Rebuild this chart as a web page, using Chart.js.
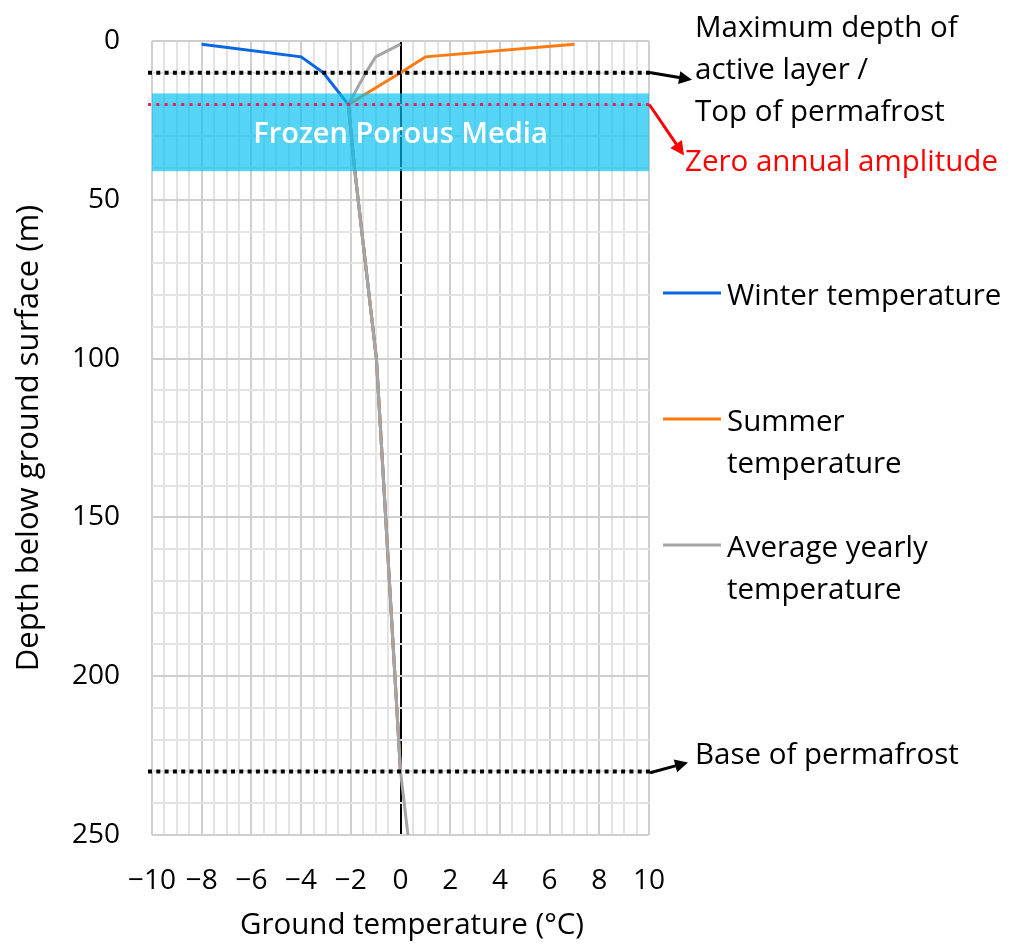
<!DOCTYPE html>
<html>
<head>
<meta charset="utf-8">
<title>Ground temperature profile in permafrost</title>
<script src="https://cdn.jsdelivr.net/npm/chart.js@4.4.1/dist/chart.umd.min.js"></script>
<style>
  html, body { margin: 0; padding: 0; background: #ffffff; }
  #wrap { width: 1010px; height: 945px; position: relative; }
</style>
</head>
<body>
<div id="wrap"><canvas id="chart"></canvas></div>
<script>
// Temperature profiles: depth below surface (m) and ground temperature (°C)
const depthWinter = [1, 5, 10, 20, 40, 100, 230];
const tempWinter = [-8, -4, -3.1, -2.1, -1.85, -0.97, 0];

const depthSummer = [1, 5, 10, 20, 40, 100, 230];
const tempSummer = [7, 1, 0, -2.1, -1.85, -0.97, 0];

const depthAverage = [1, 5, 10, 20, 40, 100, 230, 250];
const tempAverage = [0, -1, -1.4, -2.1, -1.85, -0.97, 0, 0.3];

// Axis tick labels
const xTickLabels = [-10, -8, -6, -4, -2, 0, 2, 4, 6, 8, 10];
const yTickLabels = [0, 50, 100, 150, 200, 250];

// Reference depths (m)
const activeLayerDepth = 10;
const zeroAmplitudeDepth = 20;
const permafrostBaseDepth = 230;
const frozenLayerTop = 16.5;
const frozenLayerBottom = 41;

const FONT = '"Open Sans", Lato, sans-serif';

const toPoints = (depths, temps) => depths.map((d, i) => ({ x: temps[i], y: d }));
const fmtTemp = v => (v < 0 ? '\u2212' + Math.abs(v) : String(v));

function drawArrow(ctx, x0, y0, x1, y1, color, width, head) {
  const a = Math.atan2(y1 - y0, x1 - x0);
  const bx = x1 - head * Math.cos(a);
  const by = y1 - head * Math.sin(a);
  const hw = head * 0.5;
  ctx.save();
  ctx.strokeStyle = color;
  ctx.lineWidth = width;
  ctx.lineCap = 'round';
  ctx.beginPath();
  ctx.moveTo(x0, y0);
  ctx.lineTo(bx, by);
  ctx.stroke();
  ctx.fillStyle = color;
  ctx.beginPath();
  ctx.moveTo(x1, y1);
  ctx.lineTo(bx + hw * Math.sin(a), by - hw * Math.cos(a));
  ctx.lineTo(bx - hw * Math.sin(a), by + hw * Math.cos(a));
  ctx.closePath();
  ctx.fill();
  ctx.restore();
}

function dottedLine(ctx, x0, x1, y, color, width, dash) {
  ctx.save();
  ctx.strokeStyle = color;
  ctx.lineWidth = width;
  ctx.setLineDash(dash);
  ctx.beginPath();
  ctx.moveTo(x0, y);
  ctx.lineTo(x1, y);
  ctx.stroke();
  ctx.restore();
}

const overlayPlugin = {
  id: 'permafrostOverlay',
  afterDatasetsDraw(chart) {
    const { ctx, chartArea: area, scales: { x, y } } = chart;
    // translucent frozen layer band
    const yTop = y.getPixelForValue(frozenLayerTop);
    const yBot = y.getPixelForValue(frozenLayerBottom);
    ctx.save();
    ctx.fillStyle = 'rgba(0, 190, 240, 0.667)';
    ctx.fillRect(area.left, yTop, area.right - area.left, yBot - yTop);
    ctx.restore();

    // reference depth lines
    dottedLine(ctx, area.left - 4, area.right + 2, y.getPixelForValue(activeLayerDepth), '#000000', 4, [4, 4.3]);
    dottedLine(ctx, area.left - 4, area.right + 2, y.getPixelForValue(zeroAmplitudeDepth), '#e8205f', 3, [3, 5.3]);
    dottedLine(ctx, area.left - 4, area.right + 2, y.getPixelForValue(permafrostBaseDepth), '#000000', 4, [4, 4.3]);

    // band label
    ctx.save();
    ctx.font = '600 29px ' + FONT;
    ctx.fillStyle = '#ffffff';
    ctx.textAlign = 'center';
    ctx.textBaseline = 'alphabetic';
    const label = 'Frozen Porous Media';
    const m = ctx.measureText(label);
    const cy = (yTop + yBot) / 2;
    ctx.fillText(label, x.getPixelForValue(0), cy + (m.actualBoundingBoxAscent - m.actualBoundingBoxDescent) / 2);
    ctx.restore();
  },
  afterDraw(chart) {
    const { ctx, chartArea: area, scales: { y } } = chart;
    const r = area.right;
    const yActive = y.getPixelForValue(activeLayerDepth);
    const yZero = y.getPixelForValue(zeroAmplitudeDepth);
    const yBase = y.getPixelForValue(permafrostBaseDepth);

    drawArrow(ctx, r + 2, yActive, r + 43, yActive + 7, '#000000', 3, 13);
    drawArrow(ctx, r + 1, yZero + 1, r + 35, yZero + 51, '#ff0000', 3, 14);
    drawArrow(ctx, r + 2, yBase + 1, r + 39, yBase - 9, '#000000', 3, 13);

    ctx.save();
    ctx.font = '29.5px ' + FONT;
    ctx.textAlign = 'left';
    ctx.textBaseline = 'alphabetic';
    ctx.fillStyle = '#000000';
    ctx.fillText('Maximum depth of', 695, 37);
    ctx.fillText('active layer /', 695, 79);
    ctx.fillText('Top of permafrost', 695, 121);
    ctx.fillText('Base of permafrost', 695, 764);
    ctx.fillStyle = '#ff0000';
    ctx.fillText('Zero annual amplitude', 685, 171);

    // legend
    const entries = [
      { color: '#0b66e4', lines: ['Winter temperature'], y: 293 },
      { color: '#ff7b12', lines: ['Summer', 'temperature'], y: 419 },
      { color: '#a5a5a5', lines: ['Average yearly', 'temperature'], y: 545 }
    ];
    ctx.fillStyle = '#000000';
    entries.forEach(e => {
      ctx.strokeStyle = e.color;
      ctx.lineWidth = 3;
      ctx.beginPath();
      ctx.moveTo(663, e.y);
      ctx.lineTo(721, e.y);
      ctx.stroke();
      e.lines.forEach((t, i) => ctx.fillText(t, 727, e.y + 12 + i * 42));
    });

    // horizontal axis title
    ctx.textAlign = 'center';
    ctx.textBaseline = 'middle';
    ctx.fillText('Ground temperature (°C)', 412, 926);
    ctx.restore();
  }
};

const majorX = v => Math.abs(v % 2) < 1e-9;
const majorY = v => Math.abs(v % 50) < 1e-9;

new Chart(document.getElementById('chart'), {
  type: 'scatter',
  data: {
    datasets: [
      {
        label: 'Winter temperature',
        data: toPoints(depthWinter, tempWinter),
        borderColor: '#0b66e4',
        order: 3
      },
      {
        label: 'Summer temperature',
        data: toPoints(depthSummer, tempSummer),
        borderColor: '#ff7b12',
        order: 2
      },
      {
        label: 'Average yearly temperature',
        data: toPoints(depthAverage, tempAverage),
        borderColor: '#a5a5a5',
        order: 1
      }
    ].map(ds => Object.assign(ds, {
      showLine: true,
      borderWidth: 3,
      pointRadius: 0,
      pointHoverRadius: 0,
      tension: 0,
      fill: false
    }))
  },
  options: {
    responsive: true,
    maintainAspectRatio: false,
    animation: false,
    layout: { padding: { left: 0, top: 41, right: 361, bottom: 0 } },
    plugins: {
      legend: { display: false },
      tooltip: { enabled: false }
    },
    scales: {
      x: {
        type: 'linear',
        min: -10,
        max: 10,
        afterFit: s => { s.height = 110; },
        border: { display: false },
        grid: {
          drawTicks: false,
          color: c => (c.tick && c.tick.value === 0 ? '#000000' : (c.tick && majorX(c.tick.value) ? '#cfcfcf' : '#e3e3e3')),
          lineWidth: 2
        },
        ticks: {
          stepSize: 0.5,
          autoSkip: false,
          maxRotation: 0,
          minRotation: 0,
          padding: 29,
          color: '#000000',
          font: { family: FONT, size: 28 },
          callback: v => (xTickLabels.includes(v) ? fmtTemp(v) : '')
        },
        title: { display: false }
      },
      y: {
        type: 'linear',
        reverse: true,
        min: 0,
        max: 250,
        afterFit: s => { s.width = 152; },
        border: { display: false },
        grid: {
          drawTicks: true,
          tickLength: 30,
          tickColor: 'rgba(0,0,0,0)',
          color: c => (c.tick && majorY(c.tick.value) ? '#cfcfcf' : '#e3e3e3'),
          lineWidth: 2
        },
        ticks: {
          stepSize: 10,
          autoSkip: false,
          padding: 2,
          color: '#000000',
          font: { family: FONT, size: 28 },
          callback: v => (yTickLabels.includes(v) ? String(v) : '')
        },
        title: {
          display: true,
          text: 'Depth below ground surface (m)',
          color: '#000000',
          font: { family: FONT, size: 31 },
          padding: { top: 11, bottom: 0 }
        }
      }
    }
  },
  plugins: [overlayPlugin]
});
</script>
</body>
</html>
